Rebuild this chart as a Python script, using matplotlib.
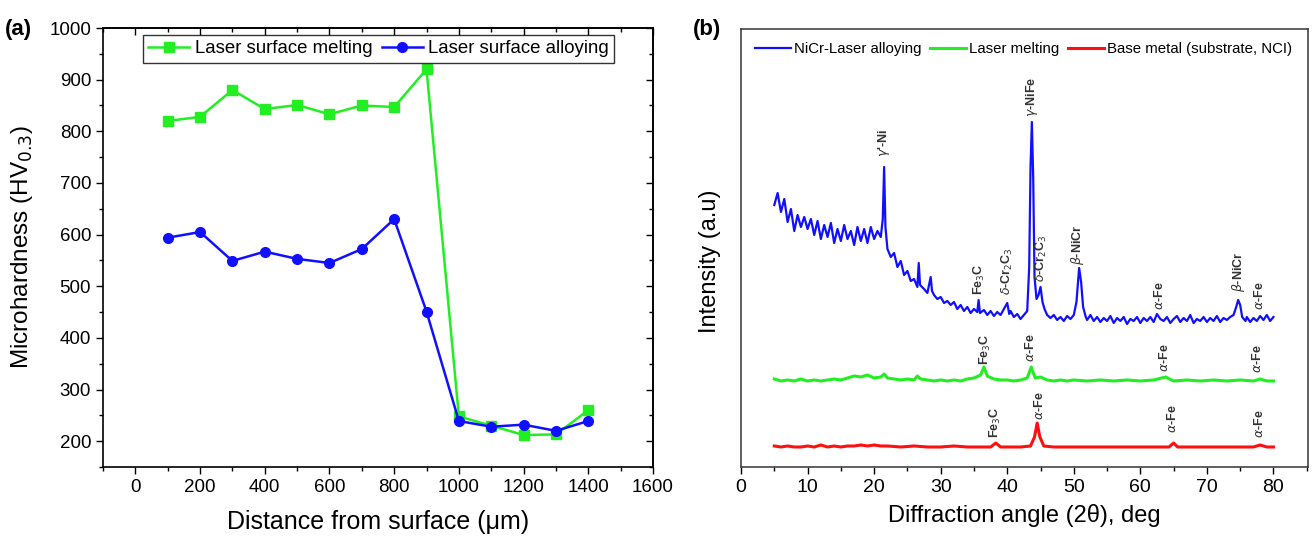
import matplotlib
matplotlib.use("Agg")
import matplotlib.pyplot as plt
from matplotlib.ticker import MultipleLocator

# ---- panel (a): microhardness profile ----
depth = [100, 200, 300, 400, 500, 600, 700, 800, 900, 1000, 1100, 1200, 1300, 1400]
hv_melting = [820, 828, 880, 843, 851, 833, 850, 847, 920, 248, 230, 212, 213, 260]
hv_alloying = [594, 605, 549, 567, 553, 545, 572, 630, 451, 239, 228, 232, 220, 239]

# ---- panel (b): XRD patterns (intensity, arbitrary units) ----
alloy_2t = [5.0, 5.5, 6.0, 6.5, 7.0, 7.5, 8.0, 8.5, 9.0, 9.5, 10.0, 10.5, 11.0, 11.5, 12.0,
            12.5, 13.0, 13.5, 14.0, 14.5, 15.0, 15.5, 16.0, 16.5, 17.0, 17.5, 18.0, 18.5,
            19.0, 19.5, 20.0, 20.5, 21.0, 21.3, 21.5, 21.7, 22.0, 22.5, 23.0, 23.5, 24.0,
            24.5, 25.0, 25.5, 26.0, 26.5, 26.7, 26.9, 27.5, 28.0, 28.5, 28.7, 29.0, 29.5,
            30.0, 30.5, 31.0, 31.5, 32.0, 32.5, 33.0, 33.5, 34.0, 34.5, 35.0, 35.5, 35.7,
            35.9, 36.5, 37.0, 37.5, 38.0, 38.5, 39.0, 39.5, 40.0, 40.3, 40.5, 41.0, 41.5,
            42.0, 42.5, 43.0, 43.3, 43.5, 43.7, 43.9, 44.1, 44.4, 44.7, 45.0, 45.3, 45.6,
            46.0, 46.5, 47.0, 47.5, 48.0, 48.5, 49.0, 49.5, 50.0, 50.4, 50.8, 51.1, 51.4,
            51.8, 52.0, 52.5, 53.0, 53.5, 54.0, 54.5, 55.0, 55.5, 56.0, 56.5, 57.0, 57.5,
            58.0, 58.5, 59.0, 59.5, 60.0, 60.5, 61.0, 61.5, 62.0, 62.5, 63.0, 63.5, 64.0,
            64.5, 65.0, 65.5, 66.0, 66.5, 67.0, 67.5, 68.0, 68.5, 69.0, 69.5, 70.0, 70.5,
            71.0, 71.5, 72.0, 72.5, 73.0, 73.5, 74.0, 74.4, 74.7, 75.0, 75.3, 75.8, 76.0,
            76.5, 77.0, 77.5, 78.0, 78.5, 79.0, 79.5, 80.0]
alloy_int = [262, 274, 255, 268, 245, 258, 236, 252, 240, 250, 238, 248, 232, 246, 228,
             242, 230, 244, 224, 238, 226, 242, 228, 236, 222, 240, 226, 238,
             224, 240, 228, 236, 230, 248, 300, 240, 218, 210, 214, 200, 206,
             192, 196, 186, 188, 180, 204, 182, 178, 174, 190, 176, 172, 168,
             170, 164, 166, 162, 165, 158, 162, 156, 160, 154, 158, 155, 167,
             154, 157, 152, 156, 151, 155, 152, 158, 164, 153, 156, 150, 153,
             148, 152, 156, 200, 300, 345, 290, 190, 168, 172, 180, 165, 158,
             152, 149, 152, 147, 150, 146, 151, 148, 152, 165, 199, 185, 160,
             150, 147, 152, 146, 150, 145, 149, 146, 151, 144, 149, 146, 150,
             143, 148, 146, 150, 144, 149, 146, 150, 145, 153, 148, 146, 150,
             144, 148, 151, 145, 149, 146, 152, 144, 148, 146, 150, 145, 149,
             146, 151, 145, 149, 147, 150, 152, 160, 167, 162, 150, 146, 150,
             145, 149, 146, 151, 147, 152, 146, 150]

melt_2t = [5, 6, 7, 8, 9, 10, 11, 12, 13, 14, 15, 16, 17, 18, 19, 20, 21, 21.5, 22, 23,
           24, 25, 26, 26.5, 27, 28, 29, 30, 31, 32, 33, 34, 35, 36, 36.5, 37, 38, 39,
           40, 41, 42, 43, 43.6, 44.2, 45, 46, 47, 48, 49, 50, 52, 54, 56, 58, 60, 62,
           63.8, 65, 67, 69, 71, 73, 75, 77, 78, 79, 80]
melt_int = [88, 86, 87, 86, 88, 86, 87, 86, 87, 88, 87, 89, 91, 90, 92, 89, 90, 93, 89, 88,
            87, 88, 87, 91, 88, 87, 86, 87, 86, 87, 86, 88, 89, 92, 100, 91, 88, 87,
            87, 86, 87, 89, 100, 89, 90, 87, 86, 87, 86, 87, 86, 87, 86, 87, 86, 87,
            90, 86, 87, 86, 87, 86, 87, 86, 88, 86, 86]

base_2t = [5, 6, 7, 8, 9, 10, 11, 12, 13, 14, 15, 16, 17, 18, 19, 20, 21, 22, 24, 26,
           28, 30, 32, 34, 36, 37.5, 38.3, 39, 40, 42, 43.5, 44.1, 44.5, 44.9, 45.5, 47,
           50, 53, 56, 59, 62, 64.3, 65, 65.6, 68, 71, 74, 77, 78, 79, 80]
base_int = [21, 20, 21, 20, 20, 21, 20, 22, 20, 21, 20, 21, 21, 22, 21, 22, 21, 21, 20, 21,
            20, 20, 21, 20, 20, 20, 24, 20, 20, 20, 21, 30, 44, 30, 21, 20,
            20, 20, 20, 20, 20, 20, 24, 20, 20, 20, 20, 20, 22, 20, 20]

peak_text = [r"$\gamma$'-Ni", r"$\gamma$-NiFe", r"Fe$_3$C", r"$\delta$-Cr$_2$C$_3$",
             r"$\delta$-Cr$_2$C$_3$", r"$\beta$-NiCr", r"$\alpha$-Fe", r"$\beta$-NiCr",
             r"$\alpha$-Fe",
             r"Fe$_3$C", r"$\alpha$-Fe", r"$\alpha$-Fe", r"$\alpha$-Fe",
             r"Fe$_3$C", r"$\alpha$-Fe", r"$\alpha$-Fe", r"$\alpha$-Fe"]
peak_2t = [21.5, 43.7, 35.8, 40.0, 45.2, 50.6, 62.9, 74.8, 77.9,
           36.7, 43.5, 63.7, 77.6,
           38.3, 44.8, 64.9, 77.9]
peak_lbl_y = [310, 350, 172, 172, 185, 202, 157, 175, 157,
              102, 105, 95, 94,
              29, 47, 34, 29]

GREEN = "#22ee22"
BLUE = "#1010ff"
RED = "#ff1010"

plt.rcParams["font.family"] = ["Liberation Sans", "DejaVu Sans"]

fig = plt.figure(figsize=(13.12, 5.41), dpi=100)
ax1 = fig.add_axes([0.0785, 0.1368, 0.4192, 0.8114])
ax2 = fig.add_axes([0.5648, 0.1368, 0.4322, 0.8096])

# (a)
ax1.plot(depth, hv_melting, color=GREEN, marker="s", ms=7, lw=1.8, label="Laser surface melting")
ax1.plot(depth, hv_alloying, color=BLUE, marker="o", ms=7, lw=1.8, label="Laser surface alloying")
ax1.set_xlim(-100, 1600)
ax1.set_ylim(150, 1000)
ax1.xaxis.set_major_locator(MultipleLocator(200))
ax1.xaxis.set_minor_locator(MultipleLocator(100))
ax1.yaxis.set_major_locator(MultipleLocator(100))
ax1.yaxis.set_minor_locator(MultipleLocator(50))
ax1.tick_params(which="both", direction="out", width=1, labelsize=13.5)
ax1.tick_params(which="major", length=5)
ax1.tick_params(which="minor", length=3)
# mirrored ticks on top / right point inwards
top = ax1.secondary_xaxis("top")
top.xaxis.set_major_locator(MultipleLocator(200))
top.xaxis.set_minor_locator(MultipleLocator(100))
top.tick_params(which="both", direction="in", labeltop=False, width=1)
top.tick_params(which="major", length=5)
top.tick_params(which="minor", length=3)
right = ax1.secondary_yaxis("right")
right.yaxis.set_major_locator(MultipleLocator(100))
right.yaxis.set_minor_locator(MultipleLocator(50))
right.tick_params(which="both", direction="in", labelright=False, width=1)
right.tick_params(which="major", length=5)
right.tick_params(which="minor", length=3)
ax1.set_xlabel("Distance from surface (\u03bcm)", fontsize=18, labelpad=10)
ax1.set_ylabel("Microhardness (HV$_{0.3}$)", fontsize=17.5, labelpad=10)
leg1 = ax1.legend(loc="upper left", bbox_to_anchor=(0.072, 0.985), ncol=2, frameon=True,
                  fancybox=False, edgecolor="black", handlelength=2.2, columnspacing=0.5,
                  handletextpad=0.3, borderpad=0.3, borderaxespad=0.0, prop={"size": 13.4})
leg1.get_frame().set_linewidth(1.0)
for s in ax1.spines.values():
    s.set_linewidth(1.2)
for s in top.spines.values():
    s.set_linewidth(1.2)
for s in right.spines.values():
    s.set_linewidth(1.2)
fig.text(0.004, 0.935, "(a)", fontsize=16, fontweight="bold")

# (b)
ax2.plot(alloy_2t, alloy_int, color=BLUE, lw=1.6, label="NiCr-Laser alloying")
ax2.plot(melt_2t, melt_int, color=GREEN, lw=2.2, label="Laser melting")
ax2.plot(base_2t, base_int, color=RED, lw=2.2, label="Base metal (substrate, NCI)")
for t, x, y in zip(peak_text, peak_2t, peak_lbl_y):
    ax2.text(x, y, t, rotation=90, ha="center", va="bottom", fontsize=9,
             color="#333333", fontweight="bold")
ax2.set_xlim(0, 85.2)
ax2.set_ylim(0, 438)
ax2.set_yticks([])
ax2.xaxis.set_major_locator(MultipleLocator(10))
ax2.xaxis.set_minor_locator(MultipleLocator(5))
ax2.tick_params(axis="x", which="both", direction="out", width=1)
ax2.tick_params(axis="x", which="major", length=5, labelsize=14)
ax2.tick_params(axis="x", which="minor", length=3)
ax2.set_xlabel("Diffraction angle (2\u03b8), deg", fontsize=17, labelpad=6)
ax2.set_ylabel("Intensity (a.u)", fontsize=17, labelpad=10)
ax2.yaxis.set_label_coords(-0.035, 0.47)
ax2.legend(loc="upper left", bbox_to_anchor=(0.0, 1.0), ncol=3, frameon=False,
           handlelength=2.4, columnspacing=0.6, handletextpad=0.2,
           prop={"size": 10.8})
for s in ax2.spines.values():
    s.set_linewidth(1.2)
    s.set_color("#444444")
fig.text(0.528, 0.935, "(b)", fontsize=16, fontweight="bold")

fig.savefig("out.png", dpi=100)
